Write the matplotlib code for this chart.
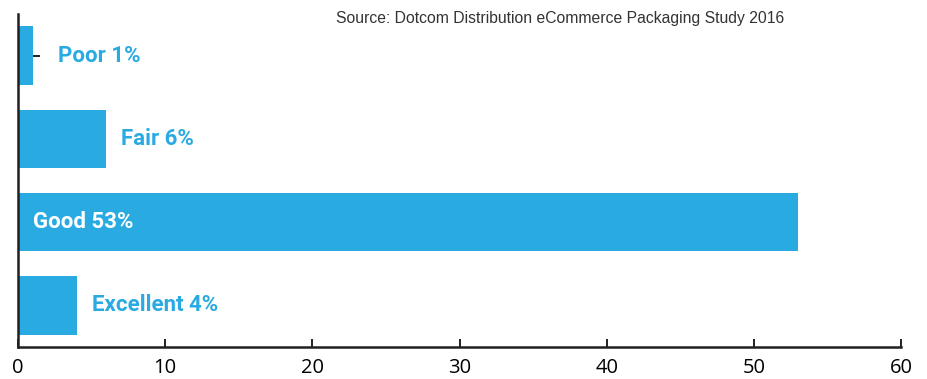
import matplotlib
matplotlib.use("Agg")
import matplotlib.pyplot as plt
from matplotlib import font_manager

# ------------------ DATA ------------------
categories = ["Poor", "Fair", "Good", "Excellent"]
values = [1, 6, 53, 4]
inside = [False, False, True, False]   # label drawn inside the bar
xticks = [0, 10, 20, 30, 40, 50, 60]
source = "Source: Dotcom Distribution eCommerce Packaging Study 2016"
# ------------------------------------------

blue = "#29abe2"
dark = "#231f20"

names = {f.name for f in font_manager.fontManager.ttflist}
label_font = "Liberation Sans Narrow" if "Liberation Sans Narrow" in names else "Roboto"

fig = plt.figure(figsize=(9.27, 3.79), dpi=100)
ax = fig.add_axes([18 / 927, 32 / 379, 883 / 927, 333 / 379])

ypos = list(range(len(categories)))
ax.barh(ypos, values, height=0.7, color=blue, zorder=3)

for y, v, c, ins in zip(ypos, values, categories, inside):
    txt = f"{c} {v}%"
    if ins:
        ax.text(1.0, y, txt, color="white", fontsize=16, fontweight="bold",
                family=label_font, va="center", ha="left", zorder=4)
    else:
        ax.text(max(v, 1.7) + 1.0, y, txt, color=blue, fontsize=16, fontweight="bold",
                family=label_font, va="center", ha="left", zorder=4)

ax.set_ylim(3.5, -0.5)
ax.set_xlim(0, 60)
ax.set_xticks(xticks)
ax.set_xticklabels([str(t) for t in xticks], fontsize=14.5, family="Open Sans", color="black")
ax.set_yticks(ypos)
ax.set_yticklabels([])

ax.tick_params(axis="x", direction="in", length=6, width=1.4, color=dark, pad=8)
ax.tick_params(axis="y", direction="in", length=16, width=1.4, color=dark)
for s in ["top", "right"]:
    ax.spines[s].set_visible(False)
for s in ["left", "bottom"]:
    ax.spines[s].set_color(dark)
    ax.spines[s].set_linewidth(1.8)
    ax.spines[s].set_zorder(5)

fig.text(336 / 927, 1 - 18 / 379, source, fontsize=11.3, family="Liberation Sans",
         color="#333333", va="center", ha="left")

fig.savefig("out.png", dpi=100)
